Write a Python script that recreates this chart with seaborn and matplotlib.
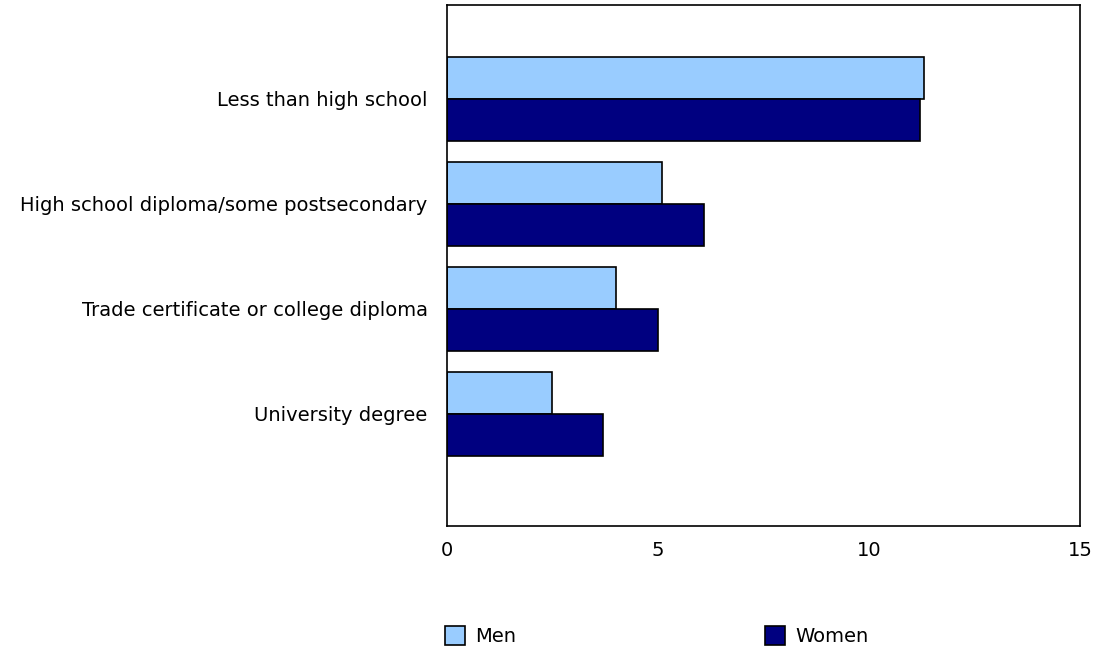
import pandas as pd
import matplotlib
matplotlib.use("Agg")
import matplotlib.pyplot as plt
import seaborn as sns
from matplotlib.patches import Patch

# --- Data ---
categories = ["Less than high school",
              "High school diploma/some postsecondary",
              "Trade certificate or college diploma",
              "University degree"]
men = [11.3, 5.1, 4.0, 2.5]
women = [11.2, 6.1, 5.0, 3.7]
series = ["Men", "Women"]
colors = {"Men": "#99CCFF", "Women": "#000080"}
x_ticks = [0, 5, 10, 15]

df = pd.DataFrame({
    "category": categories * 2,
    "value": men + women,
    "sex": ["Men"] * len(men) + ["Women"] * len(women),
})

sns.set_style("white")
plt.rcParams['font.family'] = ['DejaVu Sans']
plt.rcParams['text.color'] = 'black'

FS = 14

fig = plt.figure(figsize=(10.95, 6.49), dpi=100)
ax = fig.add_axes([0.4082, 0.1895, 0.5781, 0.8028])

sns.barplot(data=df, y="category", x="value", hue="sex", order=categories,
            hue_order=series, palette=colors, orient="h", width=0.8,
            saturation=1, edgecolor="black", linewidth=1.2, ax=ax, legend=False)

ax.set_xlim(0, 15)
ax.set_ylim(4.067, -0.895)
ax.set_xticks(x_ticks)
ax.set_xticklabels([str(t) for t in x_ticks])
ax.set_xlabel("")
ax.set_ylabel("")
ax.tick_params(axis="x", direction="in", length=7, width=1.2, labelsize=FS,
               pad=11, colors="black")
ax.tick_params(axis="y", length=0, labelsize=FS, pad=14, labelcolor="black")
for s in ax.spines.values():
    s.set_visible(True)
    s.set_color("black")
    s.set_linewidth(1.2)

handles = [Patch(facecolor=colors[s], edgecolor="black", linewidth=1.2, label=s) for s in series]
fig.legend(handles=handles, loc="center", bbox_to_anchor=(0.600, 0.020), ncol=2,
           frameon=False, fontsize=FS, handlelength=1.03, handleheight=1.1,
           handletextpad=0.52, columnspacing=12.8, borderpad=0)

plt.savefig("out.png", dpi=100)
